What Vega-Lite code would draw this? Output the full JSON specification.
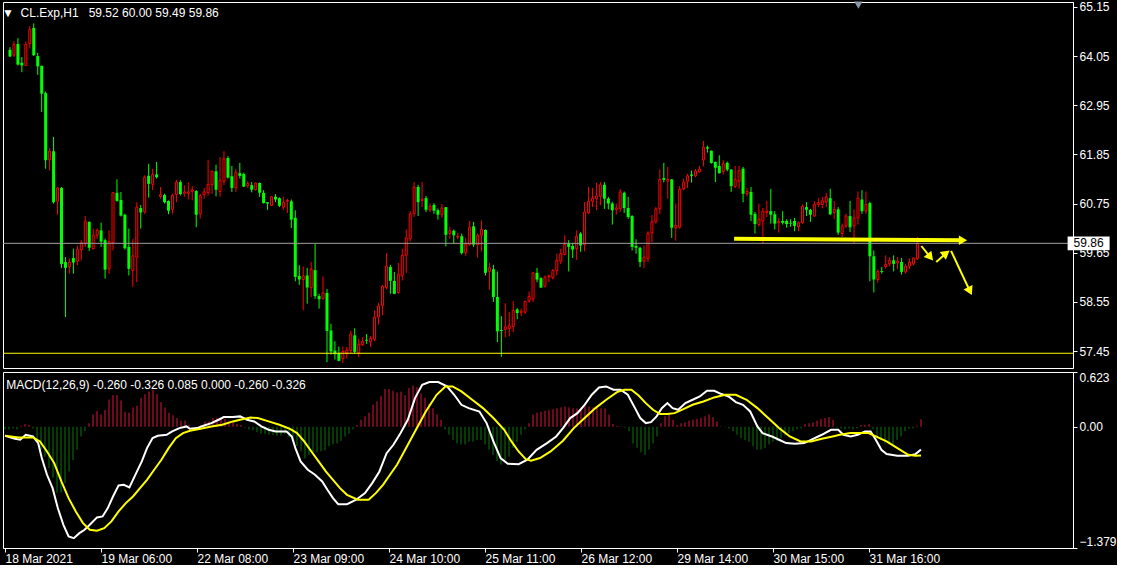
{
"$schema":"https://vega.github.io/schema/vega-lite/v6.json",
"background":"black",
"padding":0,
"spacing":4,
"bounds":"flush",
"config":{"view":{"stroke":"white","strokeWidth":1},"font":"Liberation Sans","axis":{"labelColor":"white","tickColor":"white","domainColor":"white","labelFont":"Liberation Sans","labelFontSize":12,"grid":false,"title":null,"zindex":0}},
"resolve":{"scale":{"x":"independent","y":"independent"}},
"datasets":{
"bars":[
{"i":0,"o":64.19,"h":64.25,"l":64.03,"c":64.04,"m":-0.03},
{"i":1,"o":64.07,"h":64.38,"l":64.03,"c":64.31,"m":-0.03},
{"i":2,"o":64.32,"h":64.45,"l":63.84,"c":63.86,"m":-0.02},
{"i":3,"o":63.90,"h":64.03,"l":63.69,"c":63.84,"m":-0.03},
{"i":4,"o":63.84,"h":64.38,"l":63.83,"c":64.31,"m":0.01},
{"i":5,"o":64.33,"h":64.72,"l":64.22,"c":64.65,"m":0.03},
{"i":6,"o":64.68,"h":64.78,"l":64.05,"c":64.07,"m":0.02},
{"i":7,"o":64.05,"h":64.12,"l":63.63,"c":63.82,"m":-0.02},
{"i":8,"o":63.83,"h":63.84,"l":62.80,"c":63.21,"m":-0.15},
{"i":9,"o":63.22,"h":63.26,"l":61.53,"c":61.72,"m":-0.26},
{"i":10,"o":61.73,"h":61.99,"l":61.49,"c":61.92,"m":-0.34},
{"i":11,"o":61.92,"h":62.24,"l":60.75,"c":60.78,"m":-0.47},
{"i":12,"o":60.80,"h":61.12,"l":60.50,"c":61.10,"m":-0.58},
{"i":13,"o":61.10,"h":61.12,"l":59.31,"c":59.40,"m":-0.75},
{"i":14,"o":59.44,"h":59.55,"l":58.21,"c":59.31,"m":-0.75},
{"i":15,"o":59.34,"h":59.52,"l":59.18,"c":59.44,"m":-0.64},
{"i":16,"o":59.53,"h":59.74,"l":59.18,"c":59.43,"m":-0.51},
{"i":17,"o":59.46,"h":59.81,"l":59.37,"c":59.72,"m":-0.38},
{"i":18,"o":59.72,"h":59.93,"l":59.48,"c":59.87,"m":-0.26},
{"i":19,"o":59.85,"h":60.47,"l":59.78,"c":60.35,"m":-0.11},
{"i":20,"o":60.34,"h":60.35,"l":59.69,"c":59.76,"m":-0.05},
{"i":21,"o":59.74,"h":60.19,"l":59.72,"c":60.04,"m":0.04},
{"i":22,"o":60.04,"h":60.19,"l":59.96,"c":60.15,"m":0.14},
{"i":23,"o":60.15,"h":60.32,"l":59.78,"c":59.90,"m":0.18},
{"i":24,"o":59.93,"h":59.96,"l":59.07,"c":59.27,"m":0.14},
{"i":25,"o":59.29,"h":60.15,"l":59.18,"c":59.90,"m":0.19},
{"i":26,"o":59.87,"h":61.01,"l":59.70,"c":60.99,"m":0.31},
{"i":27,"o":60.99,"h":61.29,"l":60.79,"c":60.81,"m":0.36},
{"i":28,"o":60.83,"h":61.01,"l":60.46,"c":60.48,"m":0.36},
{"i":29,"o":60.50,"h":60.52,"l":59.72,"c":59.75,"m":0.30},
{"i":30,"o":59.78,"h":60.19,"l":59.14,"c":59.29,"m":0.17},
{"i":31,"o":59.25,"h":59.96,"l":58.88,"c":59.58,"m":0.16},
{"i":32,"o":59.55,"h":60.78,"l":58.99,"c":60.67,"m":0.22},
{"i":33,"o":60.65,"h":60.72,"l":60.19,"c":60.55,"m":0.24},
{"i":34,"o":60.56,"h":61.38,"l":60.52,"c":61.34,"m":0.33},
{"i":35,"o":61.37,"h":61.64,"l":60.88,"c":61.19,"m":0.37},
{"i":36,"o":61.18,"h":61.53,"l":61.05,"c":61.40,"m":0.40},
{"i":37,"o":61.40,"h":61.68,"l":61.31,"c":61.34,"m":0.42},
{"i":38,"o":60.91,"h":61.12,"l":60.86,"c":60.95,"m":0.37},
{"i":39,"o":60.94,"h":60.97,"l":60.75,"c":60.78,"m":0.28},
{"i":40,"o":60.81,"h":60.82,"l":60.51,"c":60.59,"m":0.22},
{"i":41,"o":60.62,"h":60.97,"l":60.52,"c":60.93,"m":0.16},
{"i":42,"o":60.95,"h":61.28,"l":60.78,"c":61.23,"m":0.13},
{"i":43,"o":61.23,"h":61.27,"l":60.93,"c":60.96,"m":0.10},
{"i":44,"o":60.98,"h":61.16,"l":60.90,"c":61.01,"m":0.07},
{"i":45,"o":60.98,"h":61.22,"l":60.84,"c":61.01,"m":0.07},
{"i":46,"o":61.02,"h":61.14,"l":60.82,"c":61.06,"m":0.02},
{"i":47,"o":61.03,"h":61.05,"l":60.22,"c":60.50,"m":0.0},
{"i":48,"o":60.52,"h":60.97,"l":60.41,"c":60.93,"m":0.0},
{"i":49,"o":60.95,"h":61.10,"l":60.86,"c":61.01,"m":0.02},
{"i":50,"o":60.99,"h":61.73,"l":60.93,"c":61.18,"m":0.06},
{"i":51,"o":61.17,"h":61.49,"l":60.97,"c":61.47,"m":0.06},
{"i":52,"o":61.47,"h":61.62,"l":60.91,"c":61.06,"m":0.10},
{"i":53,"o":61.02,"h":61.79,"l":60.90,"c":61.27,"m":0.10},
{"i":54,"o":61.25,"h":61.92,"l":61.16,"c":61.75,"m":0.10},
{"i":55,"o":61.77,"h":61.81,"l":61.31,"c":61.33,"m":0.09},
{"i":56,"o":61.36,"h":61.59,"l":61.01,"c":61.10,"m":0.07},
{"i":57,"o":61.10,"h":61.53,"l":61.01,"c":61.45,"m":0.05},
{"i":58,"o":61.43,"h":61.66,"l":61.31,"c":61.37,"m":0.03},
{"i":59,"o":61.41,"h":61.44,"l":61.12,"c":61.13,"m":0.02},
{"i":60,"o":61.15,"h":61.25,"l":61.10,"c":61.20,"m":-0.01},
{"i":61,"o":61.16,"h":61.23,"l":61.00,"c":61.06,"m":-0.03},
{"i":62,"o":61.06,"h":61.22,"l":61.04,"c":61.21,"m":-0.04},
{"i":63,"o":61.21,"h":61.22,"l":60.90,"c":60.99,"m":-0.06},
{"i":64,"o":60.99,"h":61.05,"l":60.75,"c":60.76,"m":-0.08},
{"i":65,"o":60.78,"h":60.78,"l":60.61,"c":60.75,"m":-0.08},
{"i":66,"o":60.71,"h":60.92,"l":60.69,"c":60.90,"m":-0.09},
{"i":67,"o":60.90,"h":60.96,"l":60.78,"c":60.84,"m":-0.09},
{"i":68,"o":60.87,"h":60.89,"l":60.67,"c":60.70,"m":-0.10},
{"i":69,"o":60.67,"h":60.90,"l":60.61,"c":60.78,"m":-0.10},
{"i":70,"o":60.80,"h":60.86,"l":60.54,"c":60.82,"m":-0.08},
{"i":71,"o":60.80,"h":60.84,"l":60.20,"c":60.39,"m":-0.12},
{"i":72,"o":60.43,"h":60.60,"l":59.01,"c":59.11,"m":-0.17},
{"i":73,"o":59.13,"h":59.37,"l":58.93,"c":59.05,"m":-0.22},
{"i":74,"o":59.05,"h":59.34,"l":58.36,"c":59.13,"m":-0.28},
{"i":75,"o":59.14,"h":59.31,"l":58.51,"c":58.87,"m":-0.36},
{"i":76,"o":58.87,"h":59.44,"l":58.66,"c":59.28,"m":-0.32},
{"i":77,"o":59.26,"h":59.85,"l":58.62,"c":58.68,"m":-0.29},
{"i":78,"o":58.68,"h":58.73,"l":58.40,"c":58.61,"m":-0.29},
{"i":79,"o":58.62,"h":59.12,"l":58.60,"c":58.75,"m":-0.28},
{"i":80,"o":58.75,"h":58.84,"l":57.20,"c":57.90,"m":-0.27},
{"i":81,"o":57.91,"h":58.06,"l":57.37,"c":57.44,"m":-0.22},
{"i":82,"o":57.46,"h":57.67,"l":57.26,"c":57.38,"m":-0.20},
{"i":83,"o":57.40,"h":57.55,"l":57.22,"c":57.23,"m":-0.19},
{"i":84,"o":57.28,"h":57.55,"l":57.18,"c":57.44,"m":-0.16},
{"i":85,"o":57.41,"h":57.54,"l":57.28,"c":57.47,"m":-0.11},
{"i":86,"o":57.46,"h":57.90,"l":57.39,"c":57.83,"m":-0.08},
{"i":87,"o":57.80,"h":57.96,"l":57.39,"c":57.43,"m":-0.03},
{"i":88,"o":57.41,"h":57.73,"l":57.31,"c":57.60,"m":0.02},
{"i":89,"o":57.59,"h":57.76,"l":57.56,"c":57.67,"m":0.08},
{"i":90,"o":57.70,"h":57.83,"l":57.61,"c":57.68,"m":0.12},
{"i":91,"o":57.65,"h":57.79,"l":57.54,"c":57.73,"m":0.16},
{"i":92,"o":57.71,"h":58.36,"l":57.67,"c":58.21,"m":0.25},
{"i":93,"o":58.21,"h":58.52,"l":58.04,"c":58.46,"m":0.29},
{"i":94,"o":58.47,"h":58.93,"l":58.25,"c":58.90,"m":0.35},
{"i":95,"o":58.87,"h":59.64,"l":58.83,"c":59.35,"m":0.43},
{"i":96,"o":59.33,"h":59.38,"l":58.73,"c":59.02,"m":0.43},
{"i":97,"o":59.02,"h":59.22,"l":58.72,"c":58.73,"m":0.41},
{"i":98,"o":58.76,"h":59.42,"l":58.73,"c":59.17,"m":0.39},
{"i":99,"o":59.14,"h":59.74,"l":59.03,"c":59.59,"m":0.40},
{"i":100,"o":59.59,"h":60.17,"l":59.20,"c":59.98,"m":0.36},
{"i":101,"o":59.96,"h":60.58,"l":59.90,"c":60.52,"m":0.44},
{"i":102,"o":60.52,"h":61.23,"l":60.45,"c":61.12,"m":0.47},
{"i":103,"o":61.12,"h":61.17,"l":60.47,"c":60.78,"m":0.45},
{"i":104,"o":60.82,"h":61.23,"l":60.67,"c":60.85,"m":0.38},
{"i":105,"o":60.87,"h":60.92,"l":60.56,"c":60.61,"m":0.33},
{"i":106,"o":60.61,"h":60.75,"l":60.56,"c":60.69,"m":0.26},
{"i":107,"o":60.72,"h":60.76,"l":60.52,"c":60.59,"m":0.21},
{"i":108,"o":60.60,"h":60.64,"l":60.39,"c":60.50,"m":0.14},
{"i":109,"o":60.50,"h":60.74,"l":60.43,"c":60.65,"m":0.08},
{"i":110,"o":60.67,"h":60.67,"l":59.79,"c":60.05,"m":-0.03},
{"i":111,"o":60.08,"h":60.23,"l":59.96,"c":60.14,"m":-0.09},
{"i":112,"o":60.14,"h":60.17,"l":59.85,"c":60.04,"m":-0.15},
{"i":113,"o":60.00,"h":60.09,"l":59.95,"c":60.02,"m":-0.19},
{"i":114,"o":60.02,"h":60.08,"l":59.61,"c":59.64,"m":-0.20},
{"i":115,"o":59.65,"h":59.98,"l":59.58,"c":59.85,"m":-0.20},
{"i":116,"o":59.83,"h":60.36,"l":59.81,"c":60.22,"m":-0.17},
{"i":117,"o":60.24,"h":60.34,"l":59.78,"c":59.83,"m":-0.17},
{"i":118,"o":59.83,"h":60.08,"l":59.54,"c":60.04,"m":-0.15},
{"i":119,"o":60.04,"h":60.37,"l":59.68,"c":60.17,"m":-0.15},
{"i":120,"o":60.16,"h":60.17,"l":59.14,"c":59.20,"m":-0.20},
{"i":121,"o":59.23,"h":59.42,"l":58.82,"c":59.31,"m":-0.26},
{"i":122,"o":59.28,"h":59.38,"l":58.55,"c":58.66,"m":-0.32},
{"i":123,"o":58.66,"h":59.23,"l":57.65,"c":57.89,"m":-0.39},
{"i":124,"o":57.92,"h":58.23,"l":57.32,"c":57.90,"m":-0.43},
{"i":125,"o":57.93,"h":58.52,"l":57.76,"c":57.99,"m":-0.38},
{"i":126,"o":57.95,"h":58.32,"l":57.78,"c":58.02,"m":-0.34},
{"i":127,"o":58.00,"h":58.57,"l":57.87,"c":58.36,"m":-0.24},
{"i":128,"o":58.38,"h":58.41,"l":58.16,"c":58.30,"m":-0.17},
{"i":129,"o":58.31,"h":58.40,"l":58.23,"c":58.34,"m":-0.09},
{"i":130,"o":58.32,"h":58.58,"l":58.28,"c":58.56,"m":-0.03},
{"i":131,"o":58.57,"h":58.78,"l":58.53,"c":58.67,"m":0.04},
{"i":132,"o":58.61,"h":59.22,"l":58.55,"c":59.20,"m":0.14},
{"i":133,"o":59.20,"h":59.31,"l":58.99,"c":59.05,"m":0.16},
{"i":134,"o":59.08,"h":59.10,"l":58.86,"c":58.87,"m":0.17},
{"i":135,"o":58.90,"h":59.14,"l":58.87,"c":59.10,"m":0.18},
{"i":136,"o":59.11,"h":59.16,"l":58.99,"c":59.13,"m":0.19},
{"i":137,"o":59.09,"h":59.29,"l":59.05,"c":59.25,"m":0.20},
{"i":138,"o":59.25,"h":59.63,"l":59.14,"c":59.48,"m":0.21},
{"i":139,"o":59.46,"h":59.74,"l":59.40,"c":59.63,"m":0.22},
{"i":140,"o":59.61,"h":60.04,"l":59.59,"c":59.84,"m":0.23},
{"i":141,"o":59.85,"h":59.93,"l":59.23,"c":59.78,"m":0.22},
{"i":142,"o":59.80,"h":59.87,"l":59.53,"c":59.72,"m":0.21},
{"i":143,"o":59.74,"h":60.15,"l":59.49,"c":60.02,"m":0.21},
{"i":144,"o":60.08,"h":60.11,"l":59.67,"c":59.81,"m":0.20},
{"i":145,"o":59.83,"h":60.78,"l":59.68,"c":60.56,"m":0.23},
{"i":146,"o":60.54,"h":61.12,"l":60.52,"c":60.80,"m":0.23},
{"i":147,"o":60.80,"h":61.10,"l":60.67,"c":60.87,"m":0.22},
{"i":148,"o":60.86,"h":61.22,"l":60.60,"c":60.92,"m":0.23},
{"i":149,"o":60.91,"h":61.23,"l":60.71,"c":61.17,"m":0.21},
{"i":150,"o":61.17,"h":61.23,"l":60.63,"c":60.86,"m":0.21},
{"i":151,"o":60.86,"h":60.90,"l":60.62,"c":60.75,"m":0.14},
{"i":152,"o":60.75,"h":60.79,"l":60.28,"c":60.60,"m":0.03},
{"i":153,"o":60.62,"h":60.75,"l":60.50,"c":60.65,"m":0.01},
{"i":154,"o":60.63,"h":61.07,"l":60.56,"c":61.01,"m":0.005},
{"i":155,"o":60.99,"h":61.02,"l":60.54,"c":60.65,"m":-0.01},
{"i":156,"o":60.65,"h":60.90,"l":60.41,"c":60.45,"m":-0.05},
{"i":157,"o":60.47,"h":60.49,"l":59.70,"c":59.78,"m":-0.19},
{"i":158,"o":59.80,"h":59.95,"l":59.63,"c":59.76,"m":-0.24},
{"i":159,"o":59.76,"h":59.78,"l":59.33,"c":59.44,"m":-0.29},
{"i":160,"o":59.46,"h":59.81,"l":59.31,"c":59.55,"m":-0.32},
{"i":161,"o":59.52,"h":60.13,"l":59.44,"c":60.09,"m":-0.26},
{"i":162,"o":60.09,"h":60.49,"l":59.89,"c":60.34,"m":-0.19},
{"i":163,"o":60.34,"h":60.67,"l":60.30,"c":60.63,"m":-0.11},
{"i":164,"o":60.63,"h":61.51,"l":60.52,"c":61.29,"m":0.04},
{"i":165,"o":61.32,"h":61.66,"l":61.22,"c":61.28,"m":0.12},
{"i":166,"o":61.25,"h":61.57,"l":60.86,"c":61.29,"m":0.14},
{"i":167,"o":61.29,"h":61.30,"l":59.98,"c":60.21,"m":0.08},
{"i":168,"o":60.21,"h":60.75,"l":59.92,"c":60.26,"m":0.02},
{"i":169,"o":60.22,"h":61.14,"l":60.19,"c":61.07,"m":0.04},
{"i":170,"o":61.08,"h":61.31,"l":61.05,"c":61.23,"m":0.05},
{"i":171,"o":61.25,"h":61.42,"l":61.10,"c":61.37,"m":0.07},
{"i":172,"o":61.40,"h":61.49,"l":61.22,"c":61.37,"m":0.08},
{"i":173,"o":61.37,"h":61.52,"l":61.34,"c":61.48,"m":0.09},
{"i":174,"o":61.46,"h":61.59,"l":61.44,"c":61.52,"m":0.10},
{"i":175,"o":61.73,"h":62.15,"l":61.58,"c":62.01,"m":0.12},
{"i":176,"o":62.01,"h":62.05,"l":61.89,"c":61.98,"m":0.14},
{"i":177,"o":61.93,"h":61.94,"l":61.64,"c":61.66,"m":0.11},
{"i":178,"o":61.68,"h":61.69,"l":61.23,"c":61.55,"m":0.06},
{"i":179,"o":61.59,"h":61.83,"l":61.42,"c":61.43,"m":0.004},
{"i":180,"o":61.47,"h":61.72,"l":61.40,"c":61.64,"m":-0.005},
{"i":181,"o":61.66,"h":61.69,"l":61.47,"c":61.51,"m":-0.02},
{"i":182,"o":61.51,"h":61.52,"l":61.01,"c":61.14,"m":-0.05},
{"i":183,"o":61.13,"h":61.59,"l":61.10,"c":61.29,"m":-0.09},
{"i":184,"o":61.25,"h":61.59,"l":61.08,"c":61.49,"m":-0.13},
{"i":185,"o":61.53,"h":61.57,"l":60.78,"c":60.97,"m":-0.15},
{"i":186,"o":60.97,"h":61.10,"l":60.91,"c":61.02,"m":-0.17},
{"i":187,"o":61.01,"h":61.12,"l":60.36,"c":60.50,"m":-0.22},
{"i":188,"o":60.52,"h":60.56,"l":60.08,"c":60.29,"m":-0.26},
{"i":189,"o":60.28,"h":60.75,"l":60.23,"c":60.40,"m":-0.26},
{"i":190,"o":60.36,"h":60.65,"l":59.85,"c":60.58,"m":-0.24},
{"i":191,"o":60.55,"h":60.81,"l":60.45,"c":60.58,"m":-0.20},
{"i":192,"o":60.58,"h":61.08,"l":60.30,"c":60.50,"m":-0.17},
{"i":193,"o":60.51,"h":60.58,"l":60.17,"c":60.30,"m":-0.16},
{"i":194,"o":60.32,"h":60.43,"l":60.10,"c":60.35,"m":-0.13},
{"i":195,"o":60.36,"h":60.58,"l":60.28,"c":60.32,"m":-0.10},
{"i":196,"o":60.36,"h":60.40,"l":60.21,"c":60.29,"m":-0.07},
{"i":197,"o":60.32,"h":60.40,"l":60.23,"c":60.30,"m":-0.05},
{"i":198,"o":60.36,"h":60.43,"l":60.13,"c":60.25,"m":-0.03},
{"i":199,"o":60.23,"h":60.35,"l":60.13,"c":60.32,"m":-0.02},
{"i":200,"o":60.32,"h":60.73,"l":60.30,"c":60.69,"m":0.03},
{"i":201,"o":60.67,"h":60.78,"l":60.47,"c":60.61,"m":0.04},
{"i":202,"o":60.61,"h":60.63,"l":60.34,"c":60.50,"m":0.05},
{"i":203,"o":60.47,"h":60.80,"l":60.45,"c":60.73,"m":0.07},
{"i":204,"o":60.73,"h":60.87,"l":60.67,"c":60.77,"m":0.09},
{"i":205,"o":60.73,"h":60.90,"l":60.64,"c":60.81,"m":0.10},
{"i":206,"o":60.78,"h":60.99,"l":60.67,"c":60.90,"m":0.11},
{"i":207,"o":60.87,"h":61.08,"l":60.49,"c":60.51,"m":0.08},
{"i":208,"o":60.55,"h":60.80,"l":60.40,"c":60.62,"m":-0.01},
{"i":209,"o":60.62,"h":60.67,"l":60.05,"c":60.10,"m":-0.02},
{"i":210,"o":60.08,"h":60.30,"l":60.00,"c":60.25,"m":-0.03},
{"i":211,"o":60.25,"h":60.52,"l":60.20,"c":60.47,"m":-0.02},
{"i":212,"o":60.47,"h":60.81,"l":60.11,"c":60.22,"m":-0.03},
{"i":213,"o":60.25,"h":60.62,"l":59.85,"c":60.43,"m":-0.02},
{"i":214,"o":60.43,"h":61.02,"l":60.28,"c":60.87,"m":0.02},
{"i":215,"o":60.84,"h":61.05,"l":60.52,"c":60.58,"m":0.02},
{"i":216,"o":60.58,"h":61.02,"l":60.52,"c":60.73,"m":0.03},
{"i":217,"o":60.76,"h":60.79,"l":59.01,"c":59.57,"m":-0.03},
{"i":218,"o":59.57,"h":59.70,"l":58.76,"c":59.05,"m":-0.11},
{"i":219,"o":59.05,"h":59.28,"l":58.98,"c":59.23,"m":-0.15},
{"i":220,"o":59.24,"h":59.33,"l":59.18,"c":59.22,"m":-0.19},
{"i":221,"o":59.34,"h":59.59,"l":59.29,"c":59.39,"m":-0.20},
{"i":222,"o":59.40,"h":59.55,"l":59.34,"c":59.48,"m":-0.20},
{"i":223,"o":59.48,"h":59.59,"l":59.23,"c":59.40,"m":-0.15},
{"i":224,"o":59.42,"h":59.55,"l":59.28,"c":59.46,"m":-0.11},
{"i":225,"o":59.44,"h":59.53,"l":59.16,"c":59.22,"m":-0.05},
{"i":226,"o":59.22,"h":59.40,"l":59.19,"c":59.35,"m":-0.02},
{"i":227,"o":59.35,"h":59.52,"l":59.28,"c":59.44,"m":-0.02},
{"i":228,"o":59.40,"h":59.55,"l":59.37,"c":59.53,"m":0.01},
{"i":229,"o":59.52,"h":60.00,"l":59.49,"c":59.86,"m":0.085}
],
"mw":[
{"i":0,"v":-0.102},{"i":2.5,"v":-0.137},{"i":3.8,"v":-0.148},{"i":5.2,"v":-0.091},{"i":7,"v":-0.110},{"i":8.3,"v":-0.186},{"i":9.2,"v":-0.356},{"i":10.5,"v":-0.546},{"i":11.9,"v":-0.698},{"i":13.2,"v":-0.925},{"i":14.6,"v":-1.115},{"i":15.9,"v":-1.248},{"i":17.2,"v":-1.267},{"i":18.6,"v":-1.210},{"i":19.9,"v":-1.172},{"i":21.2,"v":-1.115},{"i":23,"v":-1.031},{"i":24.4,"v":-1.020},{"i":25.7,"v":-0.925},{"i":27,"v":-0.793},{"i":28.4,"v":-0.667},{"i":29.7,"v":-0.660},{"i":31.1,"v":-0.690},{"i":32.4,"v":-0.565},{"i":34.2,"v":-0.394},{"i":35.5,"v":-0.243},{"i":36.9,"v":-0.129},{"i":38.2,"v":-0.102},{"i":40.4,"v":-0.091},{"i":41.8,"v":-0.053},{"i":43.6,"v":-0.015},{"i":45.4,"v":0.004},{"i":46.2,"v":-0.023},{"i":48,"v":-0.015},{"i":49.8,"v":0.015},{"i":51.6,"v":0.042},{"i":53.4,"v":0.080},{"i":54.7,"v":0.110},{"i":57,"v":0.110},{"i":58.8,"v":0.118},{"i":60.5,"v":0.080},{"i":62.3,"v":0.061},{"i":64.1,"v":0.004},{"i":65.9,"v":-0.034},{"i":67.7,"v":-0.053},{"i":70.4,"v":-0.053},{"i":71.7,"v":-0.110},{"i":72.6,"v":-0.243},{"i":73.9,"v":-0.394},{"i":75.7,"v":-0.489},{"i":77.5,"v":-0.546},{"i":79.3,"v":-0.622},{"i":80.6,"v":-0.717},{"i":82,"v":-0.812},{"i":83.3,"v":-0.880},{"i":85.5,"v":-0.880},{"i":87.8,"v":-0.830},{"i":90,"v":-0.755},{"i":91.8,"v":-0.641},{"i":93.6,"v":-0.508},{"i":95.4,"v":-0.300},{"i":97.1,"v":-0.205},{"i":98.9,"v":-0.072},{"i":100.7,"v":0.080},{"i":102.5,"v":0.326},{"i":104.3,"v":0.478},{"i":106.1,"v":0.508},{"i":108.3,"v":0.508},{"i":110.5,"v":0.459},{"i":112.3,"v":0.364},{"i":114.1,"v":0.250},{"i":115.9,"v":0.212},{"i":118.6,"v":0.174},{"i":120.4,"v":0.042},{"i":122.1,"v":-0.167},{"i":123.9,"v":-0.356},{"i":125.7,"v":-0.421},{"i":128.4,"v":-0.425},{"i":130.6,"v":-0.375},{"i":132.9,"v":-0.262},{"i":135.5,"v":-0.186},{"i":137.8,"v":-0.110},{"i":139.5,"v":-0.015},{"i":141.3,"v":0.099},{"i":143.1,"v":0.155},{"i":144.9,"v":0.250},{"i":146.7,"v":0.364},{"i":148.5,"v":0.447},{"i":150.3,"v":0.459},{"i":152.1,"v":0.421},{"i":153.9,"v":0.421},{"i":155.7,"v":0.364},{"i":157.5,"v":0.212},{"i":158.8,"v":0.099},{"i":160.2,"v":0.042},{"i":161.5,"v":0.053},{"i":162.9,"v":0.118},{"i":164.2,"v":0.212},{"i":165.6,"v":0.269},{"i":166.9,"v":0.212},{"i":168.3,"v":0.193},{"i":170.1,"v":0.269},{"i":171.9,"v":0.307},{"i":173.7,"v":0.345},{"i":175.5,"v":0.410},{"i":177.3,"v":0.410},{"i":179.1,"v":0.372},{"i":180.9,"v":0.345},{"i":182.7,"v":0.281},{"i":184.5,"v":0.250},{"i":186.3,"v":0.174},{"i":188.1,"v":0.004},{"i":189.4,"v":-0.072},{"i":191.7,"v":-0.110},{"i":193.5,"v":-0.148},{"i":195.3,"v":-0.186},{"i":197.5,"v":-0.193},{"i":199.8,"v":-0.186},{"i":201.5,"v":-0.148},{"i":204.2,"v":-0.091},{"i":206.5,"v":-0.034},{"i":208.3,"v":-0.034},{"i":209.6,"v":-0.091},{"i":211.4,"v":-0.110},{"i":213.2,"v":-0.091},{"i":215,"v":-0.053},{"i":216.4,"v":-0.053},{"i":217.7,"v":-0.148},{"i":219.1,"v":-0.262},{"i":220.4,"v":-0.311},{"i":223.1,"v":-0.330},{"i":225.8,"v":-0.330},{"i":227.6,"v":-0.311},{"i":229,"v":-0.260}
],
"ms":[
{"i":0,"v":-0.102},{"i":3.4,"v":-0.121},{"i":7,"v":-0.121},{"i":8.75,"v":-0.167},{"i":10.5,"v":-0.281},{"i":12.3,"v":-0.413},{"i":14.1,"v":-0.622},{"i":15.9,"v":-0.812},{"i":17.7,"v":-0.963},{"i":19.5,"v":-1.096},{"i":21.2,"v":-1.172},{"i":23,"v":-1.183},{"i":24.8,"v":-1.153},{"i":26.6,"v":-1.077},{"i":28.4,"v":-0.963},{"i":30.2,"v":-0.868},{"i":32,"v":-0.793},{"i":33.75,"v":-0.698},{"i":35.5,"v":-0.603},{"i":37.3,"v":-0.489},{"i":39.1,"v":-0.375},{"i":40.9,"v":-0.243},{"i":42.7,"v":-0.129},{"i":44.5,"v":-0.072},{"i":46.25,"v":-0.046},{"i":48.9,"v":-0.023},{"i":51.6,"v":0.004},{"i":54.3,"v":0.023},{"i":57,"v":0.061},{"i":58.75,"v":0.080},{"i":61.4,"v":0.106},{"i":63.2,"v":0.099},{"i":65.9,"v":0.061},{"i":68.6,"v":0.023},{"i":71.25,"v":-0.023},{"i":73,"v":-0.072},{"i":74.8,"v":-0.167},{"i":76.6,"v":-0.281},{"i":78.4,"v":-0.394},{"i":80.2,"v":-0.508},{"i":82,"v":-0.603},{"i":83.75,"v":-0.698},{"i":85.5,"v":-0.774},{"i":88.2,"v":-0.830},{"i":90.9,"v":-0.830},{"i":92.7,"v":-0.755},{"i":94.5,"v":-0.660},{"i":96.25,"v":-0.546},{"i":98,"v":-0.432},{"i":99.8,"v":-0.281},{"i":102.5,"v":-0.053},{"i":105.2,"v":0.174},{"i":107.9,"v":0.364},{"i":110.1,"v":0.459},{"i":111.9,"v":0.459},{"i":114.1,"v":0.402},{"i":116.8,"v":0.307},{"i":119.5,"v":0.212},{"i":122.1,"v":0.099},{"i":124.8,"v":-0.034},{"i":126.6,"v":-0.167},{"i":128.4,"v":-0.281},{"i":130.2,"v":-0.368},{"i":131.5,"v":-0.387},{"i":133.75,"v":-0.356},{"i":136.4,"v":-0.281},{"i":139.5,"v":-0.159},{"i":142.2,"v":-0.015},{"i":144.9,"v":0.099},{"i":147.6,"v":0.212},{"i":150.3,"v":0.307},{"i":153,"v":0.394},{"i":154.8,"v":0.421},{"i":156.6,"v":0.421},{"i":158.4,"v":0.356},{"i":160.2,"v":0.269},{"i":162,"v":0.193},{"i":163.8,"v":0.144},{"i":165.6,"v":0.144},{"i":167.4,"v":0.155},{"i":169.2,"v":0.193},{"i":171.9,"v":0.250},{"i":174.6,"v":0.288},{"i":177.3,"v":0.334},{"i":180,"v":0.364},{"i":182.7,"v":0.364},{"i":185.4,"v":0.307},{"i":188.1,"v":0.212},{"i":190.8,"v":0.099},{"i":193.5,"v":-0.015},{"i":196.2,"v":-0.110},{"i":198.9,"v":-0.167},{"i":201.5,"v":-0.167},{"i":204.2,"v":-0.137},{"i":206.9,"v":-0.110},{"i":208.7,"v":-0.091},{"i":211.4,"v":-0.072},{"i":214.1,"v":-0.072},{"i":215.9,"v":-0.072},{"i":217.7,"v":-0.110},{"i":220.4,"v":-0.167},{"i":223.1,"v":-0.243},{"i":225.8,"v":-0.319},{"i":227.6,"v":-0.330},{"i":229,"v":-0.326}
],
"levels":[{"name":"last","p":59.86},{"name":"support","p":57.40}],
"arrows":[
{"id":"flat","i1":182.75,"p1":59.96,"i2":240.5,"p2":59.93},
{"id":"a1","i1":230,"p1":59.80,"i2":232.25,"p2":59.55},
{"id":"a2","i1":233.75,"p1":59.44,"i2":236.25,"p2":59.64},
{"id":"a3","i1":237.5,"p1":59.69,"i2":242.25,"p2":58.79}
]
},
"vconcat":[
{
"width":1070,"height":366,
"layer":[
{"data":{"name":"bars"},"mark":{"type":"rule","strokeWidth":1},
 "encoding":{
  "x":{"field":"i","type":"quantitative","scale":{"domain":[-0.5,267],"nice":false,"zero":false},"axis":null},
  "y":{"field":"l","type":"quantitative","scale":{"domain":[57.07,65.26],"nice":false,"zero":false},
       "axis":{"orient":"right","values":[65.15,64.05,62.95,61.85,60.75,59.65,58.55,57.45],"format":".2f","tickSize":4,"labelPadding":2,"labelOverlap":false,"labelFlush":false,"labelBound":false,"zindex":0}},
  "y2":{"field":"h"},
  "color":{"condition":{"test":"datum.c >= datum.o","value":"#FF0000"},"value":"#00FF00"}}},
{"data":{"name":"bars"},"transform":[{"filter":"datum.c < datum.o"}],"mark":{"type":"bar","size":3,"color":"#00FF00"},
 "encoding":{"x":{"field":"i","type":"quantitative"},"y":{"field":"o","type":"quantitative"},"y2":{"field":"c"}}},
{"data":{"name":"bars"},"transform":[{"filter":"datum.c >= datum.o"}],"mark":{"type":"bar","size":2,"fill":"black","stroke":"#FF0000","strokeWidth":1},
 "encoding":{"x":{"field":"i","type":"quantitative"},"y":{"field":"o","type":"quantitative"},"y2":{"field":"c"}}},
{"data":{"name":"levels"},"mark":{"type":"rule","strokeWidth":1},
 "encoding":{"y":{"field":"p","type":"quantitative"},"color":{"field":"name","type":"nominal","scale":{"domain":["last","support"],"range":["#A0A0A0","#FFFF00"]},"legend":null}}},
{"data":{"name":"arrows"},"transform":[{"filter":"datum.id == 'flat'"}],"mark":{"type":"rule","color":"#FFFF00","strokeWidth":4},
 "encoding":{"x":{"field":"i1","type":"quantitative"},"x2":{"field":"i2"},"y":{"field":"p1","type":"quantitative"},"y2":{"field":"p2"}}},
{"data":{"name":"arrows"},"transform":[{"filter":"datum.id != 'flat'"}],"mark":{"type":"rule","color":"#FFFF00","strokeWidth":2},
 "encoding":{"x":{"field":"i1","type":"quantitative"},"x2":{"field":"i2"},"y":{"field":"p1","type":"quantitative"},"y2":{"field":"p2"}}},
{"data":{"name":"arrows"},"transform":[{"filter":"datum.id == 'flat'"}],"mark":{"type":"point","shape":"triangle-up","angle":90,"filled":true,"color":"#FFFF00","size":90,"opacity":1},
 "encoding":{"x":{"field":"i2","type":"quantitative"},"y":{"field":"p2","type":"quantitative"}}},
{"data":{"name":"arrows"},"transform":[{"filter":"datum.id == 'a1'"}],"mark":{"type":"point","shape":"triangle-up","angle":140,"filled":true,"color":"#FFFF00","size":100,"opacity":1},
 "encoding":{"x":{"field":"i2","type":"quantitative"},"y":{"field":"p2","type":"quantitative"}}},
{"data":{"name":"arrows"},"transform":[{"filter":"datum.id == 'a2'"}],"mark":{"type":"point","shape":"triangle-up","angle":51,"filled":true,"color":"#FFFF00","size":100,"opacity":1},
 "encoding":{"x":{"field":"i2","type":"quantitative"},"y":{"field":"p2","type":"quantitative"}}},
{"data":{"name":"arrows"},"transform":[{"filter":"datum.id == 'a3'"}],"mark":{"type":"point","shape":"triangle-up","angle":154,"filled":true,"color":"#FFFF00","size":100,"opacity":1},
 "encoding":{"x":{"field":"i2","type":"quantitative"},"y":{"field":"p2","type":"quantitative"}}},
{"data":{"name":"levels"},"transform":[{"filter":"datum.name == 'last'"}],"mark":{"type":"point","shape":"M-1,-0.33L1,-0.33L1,0.33L-1,0.33Z","filled":true,"color":"white","size":1764,"opacity":1},
 "encoding":{"x":{"datum":272.2,"type":"quantitative"},"y":{"field":"p","type":"quantitative"}}},
{"data":{"name":"levels"},"transform":[{"filter":"datum.name == 'last'"}],"mark":{"type":"text","color":"black","fontSize":12,"font":"Liberation Sans","align":"center","baseline":"middle"},
 "encoding":{"x":{"datum":272.2,"type":"quantitative"},"y":{"field":"p","type":"quantitative"},"text":{"field":"p","format":".2f"}}},
{"data":{"values":[{"k":1}]},"mark":{"type":"point","shape":"triangle-down","filled":true,"color":"#8A96A8","size":70,"opacity":1},
 "encoding":{"x":{"datum":214.1,"type":"quantitative"},"y":{"datum":65.19,"type":"quantitative"}}},
{"data":{"values":[{"k":1}]},"mark":{"type":"text","color":"white","fontSize":12,"font":"Liberation Sans","align":"left","baseline":"alphabetic"},
 "encoding":{"x":{"datum":-2.0,"type":"quantitative"},"y":{"datum":64.92,"type":"quantitative"},"text":{"value":"▼\u00a0\u00a0CL.Exp,H1\u00a0\u00a0\u00a059.52 60.00 59.49 59.86"}}}
]
},
{
"width":1070,"height":176,
"layer":[
{"data":{"name":"bars"},"mark":{"type":"rule","strokeWidth":1},
 "encoding":{
  "x":{"field":"i","type":"quantitative","scale":{"domain":[-0.5,267],"nice":false,"zero":false},
       "axis":{"orient":"bottom","values":[0,24,48,72,96,120,144,168,192,216],"labelExpr":"['18 Mar 2021','19 Mar 06:00','22 Mar 08:00','23 Mar 09:00','24 Mar 10:00','25 Mar 11:00','26 Mar 12:00','29 Mar 14:00','30 Mar 15:00','31 Mar 16:00'][round(datum.value/24)]","labelAlign":"left","tickSize":4,"labelPadding":1,"labelOverlap":false,"labelFlush":false,"labelBound":false,"zindex":0}},
  "y":{"field":"m","type":"quantitative","scale":{"domain":[-1.379,0.623],"nice":false,"zero":false},
       "axis":{"orient":"right","values":[0.623,0,-1.379],"labelExpr":"datum.value == 0 ? '0.00' : format(datum.value, '.3f')","tickSize":4,"labelPadding":2,"labelOverlap":false,"labelFlush":true,"zindex":0}},
  "y2":{"datum":0},
  "color":{"condition":{"test":"datum.m >= 0","value":"#DC143C"},"value":"#0A780A"}}},
{"data":{"name":"mw"},"mark":{"type":"line","color":"white","strokeWidth":2},
 "encoding":{"x":{"field":"i","type":"quantitative"},"y":{"field":"v","type":"quantitative"}}},
{"data":{"name":"ms"},"mark":{"type":"line","color":"#FFFF00","strokeWidth":2},
 "encoding":{"x":{"field":"i","type":"quantitative"},"y":{"field":"v","type":"quantitative"}}},
{"data":{"values":[{"k":1}]},"mark":{"type":"text","color":"white","fontSize":12,"font":"Liberation Sans","align":"left","baseline":"alphabetic"},
 "encoding":{"x":{"datum":0.3,"type":"quantitative"},"y":{"datum":0.43,"type":"quantitative"},"text":{"value":"MACD(12,26,9) -0.260 -0.326 0.085 0.000 -0.260 -0.326"}}}
]
}
]
}
